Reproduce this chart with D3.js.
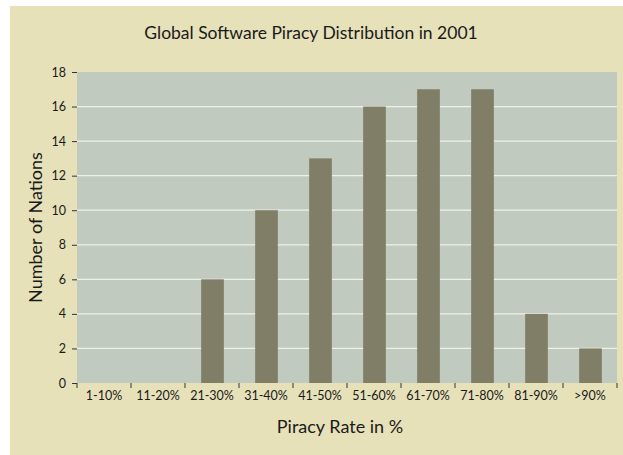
<!DOCTYPE html>
<html>
<head>
<meta charset="utf-8">
<script src="https://cdn.jsdelivr.net/npm/d3@7"></script>
<style>
  html, body { margin: 0; padding: 0; background: #fff; }
  svg { display: block; }
  text { font-family: "Lato", "Open Sans", sans-serif; fill: #1a1a1a; }
</style>
</head>
<body>
<div id="chart"></div>
<script>
// Data
const categories = ["1-10%", "11-20%", "21-30%", "31-40%", "41-50%", "51-60%", "61-70%", "71-80%", "81-90%", ">90%"];
const nations = [0, 0, 6, 10, 13, 16, 17, 17, 4, 2];
const yTicks = [0, 2, 4, 6, 8, 10, 12, 14, 16, 18];

const W = 623, H = 455;
const margin = { top: 72, right: 6, bottom: 72, left: 77 };
const width = W - margin.left - margin.right;
const height = H - margin.top - margin.bottom;

const svg = d3.select("#chart").append("svg")
    .attr("width", W)
    .attr("height", H);

// beige panel
svg.append("rect")
    .attr("x", 10).attr("y", 6)
    .attr("width", W - 10).attr("height", H - 6)
    .attr("fill", "#e6e1b9");

const g = svg.append("g")
    .attr("transform", `translate(${margin.left},${margin.top})`);

const x = d3.scaleBand()
    .domain(categories)
    .range([0, width])
    .padding(0);

const y = d3.scaleLinear()
    .domain([0, 18])
    .range([height, 0]);

// plot background
g.append("rect")
    .attr("width", width)
    .attr("height", height)
    .attr("fill", "#c1cabf");

// gridlines
g.selectAll(".grid")
    .data(yTicks.filter(d => d > 0 && d < 18))
    .join("line")
    .attr("class", "grid")
    .attr("x1", 0).attr("x2", width)
    .attr("y1", d => y(d)).attr("y2", d => y(d))
    .attr("stroke", "#eef0ea")
    .attr("stroke-width", 1.2);

// bars
const barW = x.bandwidth() * 0.42;
g.selectAll(".bar")
    .data(categories.map((c, i) => ({ cat: c, value: nations[i] })))
    .join("rect")
    .attr("class", "bar")
    .attr("x", d => x(d.cat) + (x.bandwidth() - barW) / 2 + 0.5)
    .attr("y", d => y(d.value))
    .attr("width", barW)
    .attr("height", d => height - y(d.value))
    .attr("fill", "#807e66");

// y axis
const yAxis = g.append("g")
    .call(d3.axisLeft(y).tickValues(yTicks).tickSize(5).tickPadding(6));
yAxis.select(".domain").remove();
yAxis.selectAll(".tick line").attr("stroke", "#333");
yAxis.selectAll(".tick text")
    .attr("font-size", "12.5px")
    .style("font-family", "Lato, sans-serif")
    .attr("fill", "#1a1a1a");

// x axis: ticks at band boundaries
const bounds = categories.map(c => x(c)).concat([width]);
g.selectAll(".xtick")
    .data(bounds)
    .join("line")
    .attr("class", "xtick")
    .attr("x1", d => d).attr("x2", d => d)
    .attr("y1", height).attr("y2", height + 5)
    .attr("stroke", "#333");

g.selectAll(".xlabel")
    .data(categories)
    .join("text")
    .attr("class", "xlabel")
    .attr("x", d => x(d) + x.bandwidth() / 2)
    .attr("y", height + 17)
    .attr("text-anchor", "middle")
    .attr("font-size", "12.5px")
    .text(d => d);

// axis titles
g.append("text")
    .attr("x", width / 2 - 7)
    .attr("y", height + 50)
    .attr("text-anchor", "middle")
    .attr("font-size", "18px")
    .text("Piracy Rate in %");

g.append("text")
    .attr("transform", "rotate(-90)")
    .attr("x", -height / 2)
    .attr("y", -35)
    .attr("text-anchor", "middle")
    .attr("font-size", "18px")
    .text("Number of Nations");

// title
svg.append("text")
    .attr("x", 311)
    .attr("y", 39)
    .attr("text-anchor", "middle")
    .attr("font-size", "17.5px")
    .text("Global Software Piracy Distribution in 2001");
</script>
</body>
</html>
